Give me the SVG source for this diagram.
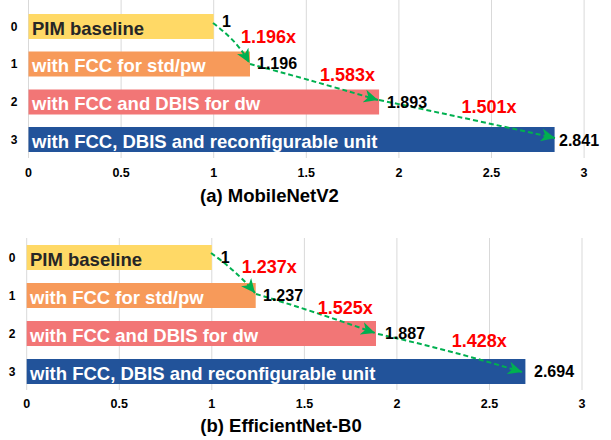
<svg xmlns="http://www.w3.org/2000/svg" width="611" height="440" viewBox="0 0 611 440">
  <style>
    text { font-family: "Liberation Sans", Arial, sans-serif; font-weight: bold; }
    .grid { stroke: #d9d9d9; stroke-width: 1; }
    .tick { font-size: 12.5px; fill: #000; text-anchor: middle; }
    .cat { font-size: 12px; fill: #000; text-anchor: middle; }
    .blab { font-size: 18.5px; fill: #fff; }
    .blab.dark { fill: #262626; }
    .val { font-size: 16px; fill: #000; }
    .gain { font-size: 18px; fill: #ff0000; }
    .title { font-size: 18.5px; fill: #000; text-anchor: middle; }
    .conn { fill: none; stroke: #00b050; stroke-width: 2; stroke-dasharray: 5 3; marker-end: url(#arrow); }
    .b0 { fill: #ffd966; }
    .b1 { fill: #f79a5a; }
    .b2 { fill: #f27676; }
    .b3 { fill: #22539a; }
  </style>
  <defs>
    <marker id="arrow" markerUnits="userSpaceOnUse" markerWidth="16" markerHeight="14" refX="14" refY="7" orient="auto">
      <path d="M0,0.5 L14,7 L0,13.5 L4,7 Z" fill="#00b050"/>
    </marker>
  </defs>
  <rect width="611" height="440" fill="#fff"/>

  <!-- Chart (a): MobileNetV2 -->
  <g id="chart-a-grid">
    <line class="grid" x1="28.5" y1="0" x2="28.5" y2="158"/>
    <line class="grid" x1="121.1" y1="0" x2="121.1" y2="158"/>
    <line class="grid" x1="213.7" y1="0" x2="213.7" y2="158"/>
    <line class="grid" x1="306.3" y1="0" x2="306.3" y2="158"/>
    <line class="grid" x1="398.9" y1="0" x2="398.9" y2="158"/>
    <line class="grid" x1="491.5" y1="0" x2="491.5" y2="158"/>
    <line class="grid" x1="584.1" y1="0" x2="584.1" y2="158"/>
  </g>
  <g id="chart-a-axis">
    <text class="tick" x="28.5" y="177">0</text>
    <text class="tick" x="121.1" y="177">0.5</text>
    <text class="tick" x="213.7" y="177">1</text>
    <text class="tick" x="306.3" y="177">1.5</text>
    <text class="tick" x="398.9" y="177">2</text>
    <text class="tick" x="491.5" y="177">2.5</text>
    <text class="tick" x="584.1" y="177">3</text>
    <text class="cat" x="14" y="30.5">0</text>
    <text class="cat" x="14" y="68">1</text>
    <text class="cat" x="14" y="106">2</text>
    <text class="cat" x="14" y="143.5">3</text>
    <text class="title" x="269.5" y="202">(a) MobileNetV2</text>
  </g>
  <g id="a-bar0">
    <rect class="b0" x="28.5" y="14" width="185.2" height="25"/>
    <text class="blab dark" x="32" y="34.5">PIM baseline</text>
  </g>
  <g id="a-bar1">
    <rect class="b1" x="28.5" y="51.5" width="221.5" height="25"/>
    <text class="blab" x="32" y="72">with FCC for std/pw</text>
  </g>
  <g id="a-bar2">
    <rect class="b2" x="28.5" y="89.5" width="350.6" height="25"/>
    <text class="blab" x="32" y="110">with FCC and DBIS for dw</text>
  </g>
  <g id="a-bar3">
    <rect class="b3" x="28.5" y="127" width="526.1" height="25"/>
    <text class="blab" x="32" y="147.5">with FCC, DBIS and reconfigurable unit</text>
  </g>
  <g id="a-connectors">
    <path class="conn" d="M213,23 C226,33 239,44 249.5,63"/>
    <path class="conn" d="M250,64 Q300,77 378,100"/>
    <path class="conn" d="M379,100 Q470,119 555,138"/>
  </g>
  <g id="a-labels">
    <text class="val" x="222" y="27">1</text>
    <text class="val" x="257" y="69">1.196</text>
    <text class="val" x="387" y="108">1.893</text>
    <text class="val" x="559" y="145.5">2.841</text>
    <text class="gain" x="241" y="42.5">1.196x</text>
    <text class="gain" x="320" y="80.7">1.583x</text>
    <text class="gain" x="461.5" y="113.3">1.501x</text>
  </g>

  <!-- Chart (b): EfficientNet-B0 -->
  <g id="chart-b-grid">
    <line class="grid" x1="26.7" y1="238" x2="26.7" y2="390"/>
    <line class="grid" x1="119.3" y1="238" x2="119.3" y2="390"/>
    <line class="grid" x1="211.8" y1="238" x2="211.8" y2="390"/>
    <line class="grid" x1="304.4" y1="238" x2="304.4" y2="390"/>
    <line class="grid" x1="396.9" y1="238" x2="396.9" y2="390"/>
    <line class="grid" x1="489.5" y1="238" x2="489.5" y2="390"/>
    <line class="grid" x1="582" y1="238" x2="582" y2="390"/>
  </g>
  <g id="chart-b-axis">
    <text class="tick" x="26.7" y="408">0</text>
    <text class="tick" x="119.3" y="408">0.5</text>
    <text class="tick" x="211.8" y="408">1</text>
    <text class="tick" x="304.4" y="408">1.5</text>
    <text class="tick" x="396.9" y="408">2</text>
    <text class="tick" x="489.5" y="408">2.5</text>
    <text class="tick" x="582" y="408">3</text>
    <text class="cat" x="12" y="261.5">0</text>
    <text class="cat" x="12" y="299.5">1</text>
    <text class="cat" x="12" y="337.5">2</text>
    <text class="cat" x="12" y="375.5">3</text>
    <text class="title" x="281" y="432">(b) EfficientNet-B0</text>
  </g>
  <g id="b-bar0">
    <rect class="b0" x="26.7" y="245" width="185.1" height="25"/>
    <text class="blab dark" x="30" y="265.5">PIM baseline</text>
  </g>
  <g id="b-bar1">
    <rect class="b1" x="26.7" y="283" width="229" height="25"/>
    <text class="blab" x="30" y="303.5">with FCC for std/pw</text>
  </g>
  <g id="b-bar2">
    <rect class="b2" x="26.7" y="321" width="349.3" height="25"/>
    <text class="blab" x="30" y="341.5">with FCC and DBIS for dw</text>
  </g>
  <g id="b-bar3">
    <rect class="b3" x="26.7" y="359" width="498.7" height="25"/>
    <text class="blab" x="30" y="379.5">with FCC, DBIS and reconfigurable unit</text>
  </g>
  <g id="b-connectors">
    <path class="conn" d="M211,253 C225,263 241,276 255,293"/>
    <path class="conn" d="M256,294 Q310,310 375,333"/>
    <path class="conn" d="M378,334 Q450,350 522,372"/>
  </g>
  <g id="b-labels">
    <text class="val" x="220.7" y="262.7">1</text>
    <text class="val" x="263" y="301">1.237</text>
    <text class="val" x="385" y="339.3">1.887</text>
    <text class="val" x="534" y="377.3">2.694</text>
    <text class="gain" x="241.7" y="273.3">1.237x</text>
    <text class="gain" x="317.7" y="314">1.525x</text>
    <text class="gain" x="451.7" y="347.3">1.428x</text>
  </g>
</svg>
